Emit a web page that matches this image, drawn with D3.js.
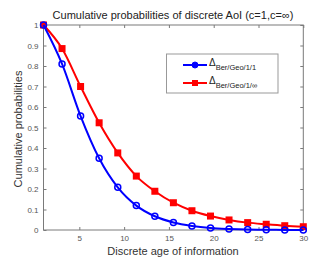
<!DOCTYPE html>
<html>
<head>
<meta charset="UTF-8">
<script src="https://d3js.org/d3.v7.min.js"></script>
<style>
  body { margin: 0; background: #fff; }
  svg { font-family: "Liberation Sans", Arial, sans-serif; }
</style>
</head>
<body>
<svg width="328" height="265"></svg>
<script>
// data
var ages = [1, 3.07, 5.14, 7.21, 9.29, 11.36, 13.43, 15.5, 17.57, 19.64, 21.71, 23.79, 25.86, 27.93, 30];
var berGeo11 = [1, 0.81, 0.556, 0.35, 0.208, 0.119, 0.067, 0.037, 0.020, 0.010, 0.005, 0.002, 0.001, 0.0005, 0.0003];
var berGeo1Inf = [1, 0.885, 0.70, 0.523, 0.376, 0.263, 0.189, 0.133, 0.094, 0.068, 0.049, 0.036, 0.028, 0.021, 0.016];
var xTicks = [5, 10, 15, 20, 25, 30];
var yTicks = [0, 0.1, 0.2, 0.3, 0.4, 0.5, 0.6, 0.7, 0.8, 0.9, 1];

var svg = d3.select('svg');
var mLeft = 43.5, mRight = 303.3, mTop = 25, mBottom = 230;

var x = d3.scaleLinear().domain([1, 30]).range([mLeft, mRight]);
var y = d3.scaleLinear().domain([0, 1]).range([mBottom, mTop]);

var axisColor = '#7a7a7a';
var tickColor = '#555';

// axes box
svg.append('rect')
  .attr('x', mLeft).attr('y', mTop)
  .attr('width', mRight - mLeft).attr('height', mBottom - mTop)
  .attr('fill', 'none').attr('stroke', axisColor).attr('stroke-width', 1);

// bottom axis
var gx = svg.append('g').attr('transform', 'translate(0,' + mBottom + ')')
  .call(d3.axisBottom(x).tickValues(xTicks).tickSize(-3).tickPadding(5).tickFormat(d3.format('d')));
// top ticks
var gxt = svg.append('g').attr('transform', 'translate(0,' + mTop + ')')
  .call(d3.axisTop(x).tickValues(xTicks).tickSize(-3).tickFormat(''));
// left axis
var gy = svg.append('g').attr('transform', 'translate(' + mLeft + ',0)')
  .call(d3.axisLeft(y).tickValues(yTicks).tickSize(-3).tickPadding(5).tickFormat(function(d) { return d === 0 || d === 1 ? d : d3.format('.1f')(d); }));
// right ticks
var gyr = svg.append('g').attr('transform', 'translate(' + mRight + ',0)')
  .call(d3.axisRight(y).tickValues(yTicks).tickSize(-3).tickFormat(''));

[gx, gxt, gy, gyr].forEach(function(g) {
  g.select('.domain').remove();
  g.selectAll('line').attr('stroke', axisColor);
  g.selectAll('text').attr('fill', tickColor).style('font-size', '8px').style('font-family', '"Liberation Sans", Arial, sans-serif');
});

// lines
var line = d3.line().curve(d3.curveMonotoneX)
  .x(function(d) { return x(d[0]); })
  .y(function(d) { return y(d[1]); });

var blueData = ages.map(function(a, i) { return [a, berGeo11[i]]; });
var redData = ages.map(function(a, i) { return [a, berGeo1Inf[i]]; });

svg.append('path').datum(redData).attr('d', line)
  .attr('fill', 'none').attr('stroke', '#ff0000').attr('stroke-width', 2);
svg.selectAll('.sq').data(redData).enter().append('rect')
  .attr('class', 'sq')
  .attr('x', function(d) { return x(d[0]) - 3.5; })
  .attr('y', function(d) { return y(d[1]) - 3.5; })
  .attr('width', 7).attr('height', 7)
  .attr('fill', '#ff0000');

svg.append('path').datum(blueData).attr('d', line)
  .attr('fill', 'none').attr('stroke', '#0000ff').attr('stroke-width', 2);
svg.selectAll('.ci').data(blueData).enter().append('circle')
  .attr('class', 'ci')
  .attr('cx', function(d) { return x(d[0]); })
  .attr('cy', function(d) { return y(d[1]); })
  .attr('r', 3)
  .attr('fill', 'none').attr('stroke', '#0000ff').attr('stroke-width', 1.5);

// title and labels
svg.append('text').attr('x', 173).attr('y', 19).attr('text-anchor', 'middle')
  .style('font-size', '11px').attr('fill', '#222')
  .text('Cumulative probabilities of discrete AoI (c=1,c=\u221E)');
svg.append('text').attr('x', 173).attr('y', 255).attr('text-anchor', 'middle')
  .style('font-size', '11px').attr('fill', '#333')
  .text('Discrete age of information');
svg.append('text').attr('transform', 'translate(22,129) rotate(-90)').attr('text-anchor', 'middle')
  .style('font-size', '11px').attr('fill', '#333')
  .text('Cumulative probabilities');

// legend
var lg = svg.append('g');
lg.append('rect').attr('x', 166.5).attr('y', 54).attr('width', 111.5).attr('height', 39)
  .attr('fill', '#fff').attr('stroke', '#999').attr('stroke-width', 1);
var items = [
  { color: '#0000ff', sub: 'Ber/Geo/1/1', marker: 'circle' },
  { color: '#ff0000', sub: 'Ber/Geo/1/\u221E', marker: 'square' }
];
items.forEach(function(it, i) {
  var cy = 65 + i * 18;
  lg.append('line').attr('x1', 183).attr('x2', 207).attr('y1', cy).attr('y2', cy)
    .attr('stroke', it.color).attr('stroke-width', 2);
  if (it.marker === 'circle') {
    lg.append('circle').attr('cx', 195).attr('cy', cy).attr('r', 3)
      .attr('fill', it.color).attr('stroke', it.color);
  } else {
    lg.append('rect').attr('x', 192).attr('y', cy - 3).attr('width', 6).attr('height', 6)
      .attr('fill', it.color);
  }
  var t = lg.append('text').attr('x', 209).attr('y', cy + 1).attr('fill', '#222').style('font-size', '10px');
  t.append('tspan').text('\u0394');
  t.append('tspan').attr('dy', 4).style('font-size', '7.5px').text(it.sub);
});
</script>
</body>
</html>
